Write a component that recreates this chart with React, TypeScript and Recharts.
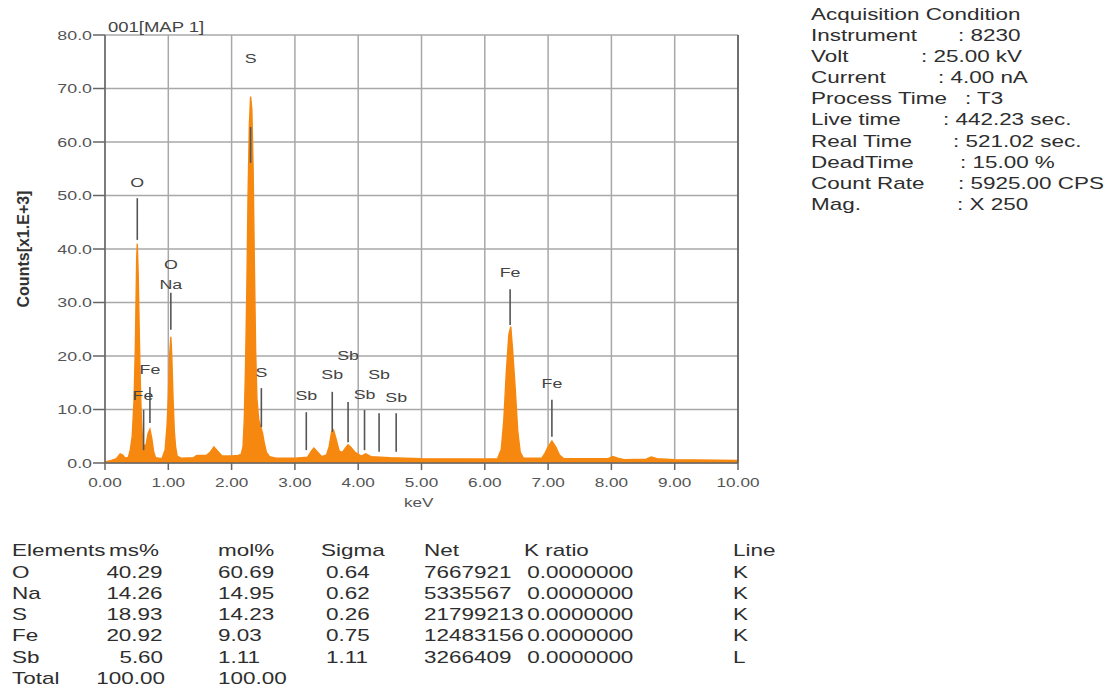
import React from "react";
import {
  AreaChart,
  Area,
  XAxis,
  YAxis,
  CartesianGrid,
  ReferenceLine,
  ReferenceDot,
} from "recharts";

// spectrum (keV, counts x1000)
const energyKeV = [
  0.0, 0.1, 0.18, 0.24, 0.28, 0.32, 0.37, 0.4, 0.43, 0.46, 0.48, 0.5, 0.51, 0.525, 0.545,
  0.56, 0.575, 0.595, 0.62, 0.65, 0.68, 0.71, 0.74, 0.77, 0.8, 0.9, 0.95, 0.98, 1.0, 1.02,
  1.04, 1.055, 1.075, 1.095, 1.115, 1.14, 1.2, 1.4, 1.45, 1.6, 1.66, 1.72, 1.78, 1.85, 2.0,
  2.1, 2.15, 2.18, 2.2, 2.22, 2.24, 2.26, 2.28, 2.3, 2.32, 2.34, 2.36, 2.38, 2.4, 2.43,
  2.46, 2.49, 2.52, 2.55, 2.6, 2.7, 3.0, 3.2, 3.26, 3.3, 3.36, 3.42, 3.5, 3.54, 3.58,
  3.61, 3.65, 3.7, 3.75, 3.8, 3.84, 3.88, 3.95, 4.05, 4.12, 4.2, 4.5, 5.0, 6.0, 6.2,
  6.26, 6.3, 6.34, 6.38, 6.41, 6.44, 6.48, 6.52, 6.56, 6.61, 6.9, 6.95, 7.0, 7.06, 7.12,
  7.18, 7.25, 7.95, 8.02, 8.1, 8.2, 8.55, 8.63, 8.72, 9.0, 10.0,
];
const countsK = [
  0.2, 0.5, 0.8, 1.7, 1.5, 0.9, 1.1, 2.5, 5, 12, 22, 38, 41, 35, 22,
  14, 8, 4, 3, 3.5, 5.5, 6.3, 4.5, 2, 1.0, 0.8, 2.5, 7, 12, 20,
  23.6, 20, 12, 6, 3, 1.3, 0.9, 1.0, 1.4, 1.4, 2.0, 3.0, 2.2, 1.3, 1.3,
  1.4, 1.6, 3, 8, 18, 32, 50, 63, 68.5, 66, 55, 37, 21, 12, 8,
  6.8, 5.5, 3.5, 2, 1.2, 0.9, 0.9, 1.1, 2.2, 2.8, 2.0, 1.2, 1.5, 3, 5.8,
  6.2, 4.5, 2.2, 2.0, 2.8, 3.4, 3.0, 2.0, 1.3, 1.7, 1.2, 1.0, 0.8, 0.75, 0.8,
  2.5, 8, 17, 24, 25.5, 21, 14, 6, 2, 0.9, 0.9, 1.8, 3, 4.1, 3,
  1.5, 0.8, 0.8, 1.2, 0.9, 0.6, 0.7, 1.1, 0.8, 0.6, 0.5,
];

const xTicks = [0, 1, 2, 3, 4, 5, 6, 7, 8, 9, 10];
const yTicks = [0, 10, 20, 30, 40, 50, 60, 70, 80];

// element marker lines: energy, bottom and top of the bar
const markerKeV = [0.51, 0.61, 0.71, 1.04, 2.3, 2.47, 3.18, 3.59, 3.84, 4.1, 4.33, 4.6, 6.4, 7.06];
const markerLow = [41.7, 2.4, 7.5, 24.9, 56.1, 6.7, 2.4, 5.8, 3.9, 2.4, 2.1, 2.1, 25.8, 4.9];
const markerHigh = [49.5, 9.9, 14.2, 31.8, 62.8, 14.0, 9.5, 13.3, 11.4, 9.9, 9.3, 9.3, 32.5, 11.8];

// peak labels
const labelText = ["O", "Fe", "Fe", "O", "Na", "S", "S", "Sb", "Sb", "Sb", "Sb", "Sb", "Sb", "Fe", "Fe"];
const labelKeV = [0.51, 0.6, 0.71, 1.04, 1.04, 2.3, 2.47, 3.18, 3.59, 3.84, 4.1, 4.33, 4.6, 6.4, 7.06];
const labelCounts = [52.5, 12.7, 17.6, 37.2, 33.5, 75.7, 17.0, 12.7, 16.6, 20.2, 12.9, 16.6, 12.3, 35.7, 15.0];

const acqLabels = [
  "Instrument", "Volt", "Current", "Process Time", "Live time",
  "Real Time", "DeadTime", "Count Rate", "Mag.",
];
const acqValues = [
  ": 8230", ": 25.00 kV", ": 4.00 nA", ": T3", ": 442.23 sec.",
  ": 521.02 sec.", ": 15.00 %", ": 5925.00 CPS", ": X 250",
];
const acqValueLeft = [958, 921, 938, 965, 943, 953, 960, 958, 957];

const elements = ["O", "Na", "S", "Fe", "Sb"];
const msPct = ["40.29", "14.26", "18.93", "20.92", "5.60"];
const molPct = ["60.69", "14.95", "14.23", "9.03", "1.11"];
const sigma = ["0.64", "0.62", "0.26", "0.75", "1.11"];
const netCounts = ["7667921", "5335567", "21799213", "12483156", "3266409"];
const kRatio = ["0.0000000", "0.0000000", "0.0000000", "0.0000000", "0.0000000"];
const lineType = ["K", "K", "K", "K", "L"];
const totals = ["100.00", "100.00"];

const ORANGE = "#f7880f";
const FONT = "'Liberation Sans', Arial, Helvetica, sans-serif";
const SX = 1.32;

const spectrum = energyKeV.map((e, i) => ({ e, c: countsK[i] }));

function T({
  x,
  y,
  children,
  size = 17,
  right = false,
  color = "#2e2e2e",
}: {
  x: number;
  y: number;
  children: React.ReactNode;
  size?: number;
  right?: boolean;
  color?: string;
}) {
  const lh = Math.round(size * 1.2);
  const style: React.CSSProperties = {
    position: "absolute",
    top: y - lh / 2,
    fontSize: size,
    lineHeight: `${lh}px`,
    whiteSpace: "pre",
    color,
    transform: `scaleX(${SX})`,
    transformOrigin: right ? "right center" : "left center",
  };
  if (right) style.right = 1110 - x;
  else style.left = x;
  return <div style={style}>{children}</div>;
}

function XTick(props: any) {
  const { x, y, payload } = props;
  return (
    <g transform={`translate(${x},${y}) scale(${SX},1)`}>
      <text x={0} y={0} dy="0.72em" textAnchor="middle" fontSize={13} fill="#555" fontFamily={FONT}>
        {Number(payload.value).toFixed(2)}
      </text>
    </g>
  );
}

function YTick(props: any) {
  const { x, y, payload } = props;
  return (
    <g transform={`translate(${x},${y}) scale(${SX},1)`}>
      <text x={0} y={0} dy="0.36em" textAnchor="end" fontSize={13.5} fill="#555" fontFamily={FONT}>
        {Number(payload.value).toFixed(1)}
      </text>
    </g>
  );
}

function PeakText({ cx, cy, text }: { cx?: number; cy?: number; text: string }) {
  if (cx == null || cy == null) return null;
  return (
    <g transform={`translate(${cx},${cy}) scale(${SX},1)`}>
      <text x={0} y={0} dy="0.36em" textAnchor="middle" fontSize={13.5} fill="#444" fontFamily={FONT}>
        {text}
      </text>
    </g>
  );
}

export default function App() {
  const rowY = [573, 594, 615, 636, 658];
  return (
    <div
      style={{
        position: "absolute",
        left: 0,
        top: 0,
        width: 1110,
        height: 689,
        background: "#fff",
        fontFamily: FONT,
        overflow: "hidden",
      }}
    >
      <div style={{ position: "absolute", left: 0, top: 0 }}>
        <AreaChart
          width={780}
          height={520}
          data={spectrum}
          margin={{ top: 35, right: 42, left: 0, bottom: 0 }}
        >
          <CartesianGrid stroke="#a8a8a8" strokeWidth={1.5} />
          <XAxis
            type="number"
            dataKey="e"
            domain={[0, 10]}
            ticks={xTicks}
            interval={0}
            height={57}
            tickSize={7}
            tickMargin={8}
            stroke="#666"
            strokeWidth={1.5}
            tick={(p: any) => <XTick {...p} />}
          />
          <YAxis
            type="number"
            domain={[0, 80]}
            ticks={yTicks}
            interval={0}
            width={105}
            tickSize={12}
            tickMargin={1}
            stroke="#666"
            strokeWidth={1.5}
            tick={(p: any) => <YTick {...p} />}
          />
          <Area
            type="linear"
            dataKey="c"
            stroke={ORANGE}
            strokeWidth={1.4}
            fill={ORANGE}
            fillOpacity={1}
            dot={false}
            activeDot={false}
            isAnimationActive={false}
          />
          <ReferenceLine x={10} stroke="#555" strokeWidth={1.5} />
          {markerKeV.map((e, i) => (
            <ReferenceLine
              key={`m-${i}`}
              segment={[
                { x: e, y: markerLow[i] },
                { x: e, y: markerHigh[i] },
              ]}
              stroke="#555"
              strokeWidth={1.6}
            />
          ))}
          {labelText.map((t, i) => (
            <ReferenceDot
              key={`l-${i}`}
              x={labelKeV[i]}
              y={labelCounts[i]}
              r={0}
              shape={(p: any) => <PeakText cx={p.cx} cy={p.cy} text={t} />}
            />
          ))}
        </AreaChart>
      </div>

      {/* chart texts */}
      <T x={108} y={27} size={14} color="#444">001[MAP 1]</T>
      <T x={404} y={503} size={13} color="#555">keV</T>
      <div
        style={{
          position: "absolute",
          left: 24,
          top: 249,
          transform: "translate(-50%,-50%) rotate(-90deg)",
          fontSize: 16,
          fontWeight: "bold",
          color: "#333",
          whiteSpace: "pre",
        }}
      >
        Counts[x1.E+3]
      </div>

      {/* acquisition block */}
      <T x={811} y={15}>Acquisition Condition</T>
      {acqLabels.map((l, i) => (
        <React.Fragment key={l}>
          <T x={811} y={36 + i * 21.1}>{l}</T>
          <T x={acqValueLeft[i]} y={36 + i * 21.1}>{acqValues[i]}</T>
        </React.Fragment>
      ))}

      {/* quantification table */}
      <T x={12} y={551}>Elements</T>
      <T x={109} y={551}>ms%</T>
      <T x={218} y={551}>mol%</T>
      <T x={321} y={551}>Sigma</T>
      <T x={424} y={551}>Net</T>
      <T x={524} y={551}>K ratio</T>
      <T x={733} y={551}>Line</T>
      {elements.map((el, i) => (
        <React.Fragment key={el}>
          <T x={12} y={rowY[i]}>{el}</T>
          <T x={163} y={rowY[i]} right>{msPct[i]}</T>
          <T x={218} y={rowY[i]}>{molPct[i]}</T>
          <T x={326} y={rowY[i]}>{sigma[i]}</T>
          <T x={424} y={rowY[i]}>{netCounts[i]}</T>
          <T x={633} y={rowY[i]} right>{kRatio[i]}</T>
          <T x={733} y={rowY[i]}>{lineType[i]}</T>
        </React.Fragment>
      ))}
      <T x={12} y={679}>Total</T>
      <T x={165} y={679} right>{totals[0]}</T>
      <T x={218} y={679}>{totals[1]}</T>
    </div>
  );
}
